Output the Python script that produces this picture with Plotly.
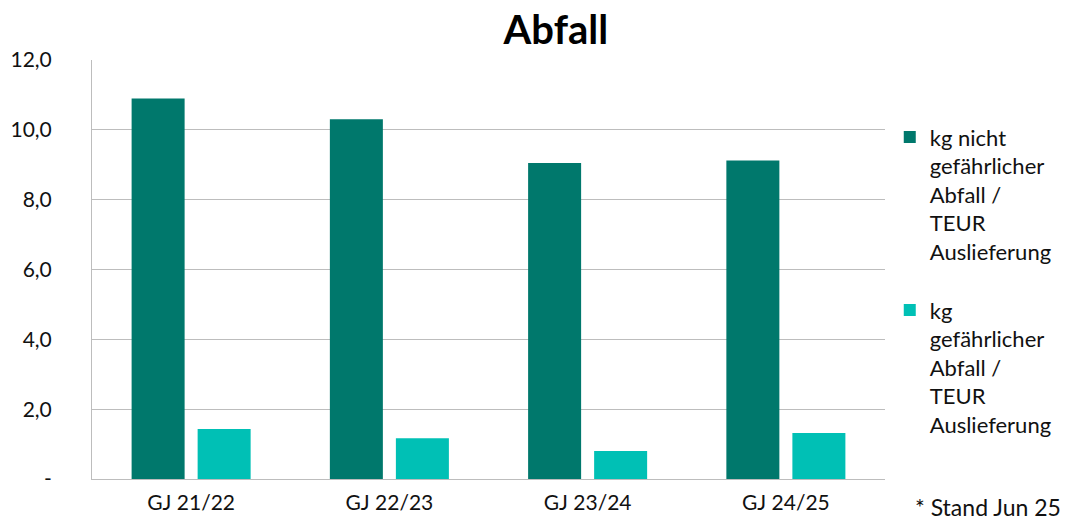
import plotly.graph_objects as go

categories = ["GJ 21/22", "GJ 22/23", "GJ 23/24", "GJ 24/25"]
non_hazardous = [10.9, 10.3, 9.05, 9.12]
hazardous = [1.43, 1.17, 0.80, 1.32]
series_names = [
    "kg nicht<br>gefährlicher<br>Abfall /<br>TEUR<br>Auslieferung",
    "kg<br>gefährlicher<br>Abfall /<br>TEUR<br>Auslieferung",
]
y_tickvals = [0, 2, 4, 6, 8, 10, 12]
y_ticktext = ["-", "2,0", "4,0", "6,0", "8,0", "10,0", "12,0"]

FONT = "Lato, 'Open Sans', sans-serif"

fig = go.Figure()
fig.add_trace(go.Bar(x=categories, y=non_hazardous, name=series_names[0], legendgroup="g1",
                     marker=dict(color="#00786C", line=dict(width=0))))
fig.add_trace(go.Bar(x=categories, y=hazardous, name=series_names[1], legendgroup="g2",
                     marker=dict(color="#00C0B5", line=dict(width=0))))

fig.update_layout(
    width=1069, height=520,
    margin=dict(l=92, r=184, t=60, b=41, autoexpand=False),
    paper_bgcolor="white", plot_bgcolor="white",
    font=dict(family=FONT, size=21, color="#111111"),
    title=dict(text="<b>Abfall</b>", x=0.52, xanchor="center", y=0.942, yanchor="middle",
               font=dict(size=40, color="#000000", family=FONT)),
    barmode="group", bargap=0.334, bargroupgap=0.197,
    legend=dict(x=1.006, y=0.866, xanchor="left", yanchor="top",
                font=dict(size=22, family=FONT), valign="top",
                tracegroupgap=27, itemwidth=30, bgcolor="rgba(0,0,0,0)"),
    showlegend=True,
)
fig.update_yaxes(range=[0, 12], tickvals=y_tickvals, ticktext=y_ticktext,
                 showgrid=True, gridcolor="#BDBDBD", gridwidth=1, automargin=False,
                 zeroline=False, showline=True, linecolor="#BDBDBD", linewidth=1,
                 ticks="", ticklabelstandoff=35, tickfont=dict(size=21))
fig.update_xaxes(showline=True, linecolor="#BDBDBD", linewidth=1, ticks="", automargin=False,
                 ticklabelstandoff=5, tickfont=dict(size=21))
fig.add_annotation(text="* Stand Jun 25", xref="paper", yref="paper",
                   x=1.035, y=-0.068, xanchor="left", yanchor="middle",
                   showarrow=False, font=dict(size=23, family=FONT))

fig.write_html("out.html", config={"displayModeBar": False},
               post_script="document.body.style.margin='0';document.body.style.overflow='hidden';")
